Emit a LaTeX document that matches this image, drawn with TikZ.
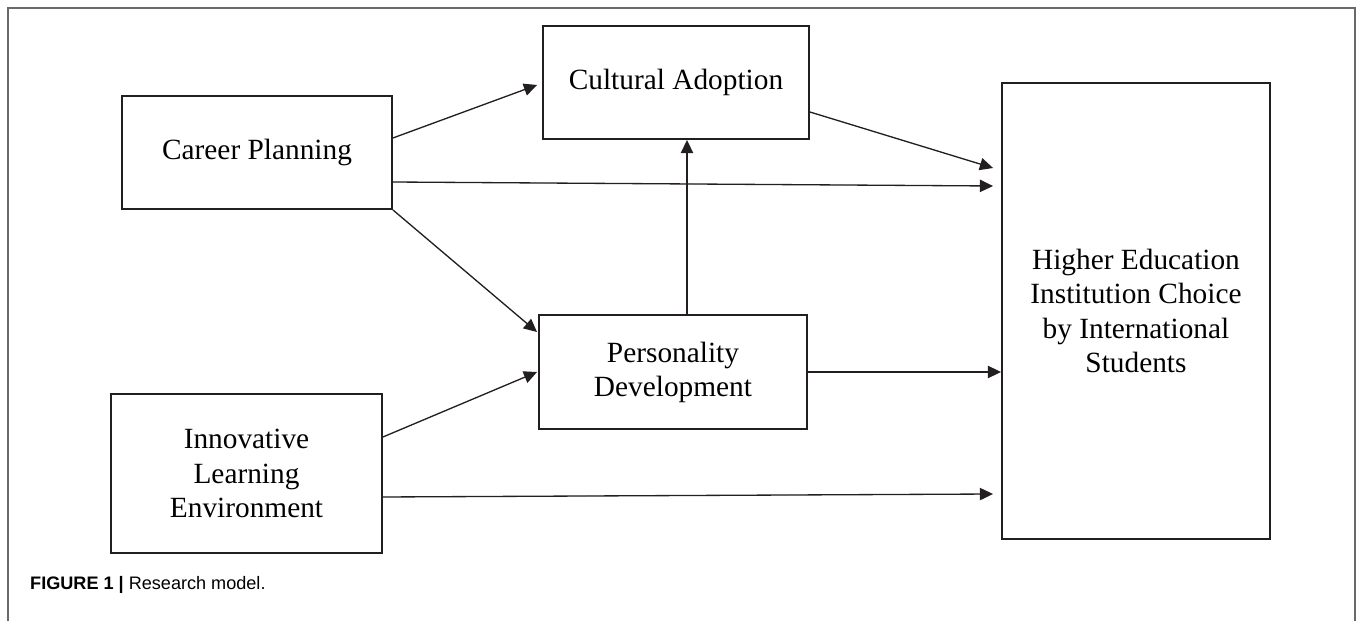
\documentclass[tikz,border=0pt]{standalone}
\usepackage{fontspec}
\setmainfont{Liberation Serif}
\newfontfamily\capfont{Liberation Sans}
\usetikzlibrary{arrows.meta, calc}

\definecolor{boxgray}{RGB}{35,31,32}
\definecolor{framegray}{RGB}{105,105,105}

\begin{document}
\begin{tikzpicture}[x=0.02cm, y=-0.02cm,
    every node/.style={font=\fontsize{16.7}{19.4}\selectfont},
    box/.style={draw=boxgray, line width=1.1pt, align=center, inner sep=0pt},
    arr/.style={-{Triangle[length=7.5pt,width=7pt]}, line width=0.75pt, draw=boxgray, fill=boxgray}]
    \useasboundingbox (0,0) rectangle (1357,621);

    % figure frame, open at the bottom
    \draw[framegray, line width=1.2pt] (8,621) -- (8,8) -- (1355,8) -- (1355,621);

    \node[box, minimum width=5.4cm, minimum height=2.26cm] (cp) at (257,152.5) {Career Planning};
    \node[box, minimum width=5.32cm, minimum height=2.26cm] (ca) at (676,82.5) {Cultural Adoption};
    \node[box, minimum width=5.36cm, minimum height=2.28cm] (pd) at (673,372) {Personality\\Development};
    \node[box, minimum width=5.42cm, minimum height=3.18cm] (ile) at (246.5,473.5) {Innovative\\Learning\\Environment};
    \node[box, minimum width=5.36cm, minimum height=9.12cm] (he) at (1136,311) {Higher Education\\Institution Choice\\by International\\Students};

    \draw[arr] ($(cp.east)+(0,-14.5)$) -- ($(ca.west)+(-5,2.5)$);
    \draw[arr] ($(cp.east)+(0,29.5)$) -- ($(he.west)+(-8,-125)$);
    \draw[arr] (cp.south east) -- ($(pd.north west)+(-1,18)$);
    \draw[arr] ($(ile.east)+(0,-36.5)$) -- ($(pd.west)+(-1,0)$);
    \draw[arr] ($(ile.east)+(0,23.5)$) -- ($(he.west)+(-8,183)$);
    \draw[arr] (pd.east) -- (pd.east -| he.west);
    \coordinate (pdtop) at ($(pd.north)+(14,0)$);
    \draw[arr] (pdtop) -- (pdtop |- ca.south);
    \draw[arr] ($(ca.east)+(0,29.5)$) -- ($(he.west)+(-8,-143)$);

    \node[anchor=base west, font=\capfont\fontsize{10.3}{12}\selectfont] (cap) at (24,590)
        {\textbf{FIGURE 1 |} Research model.};
\end{tikzpicture}
\end{document}
